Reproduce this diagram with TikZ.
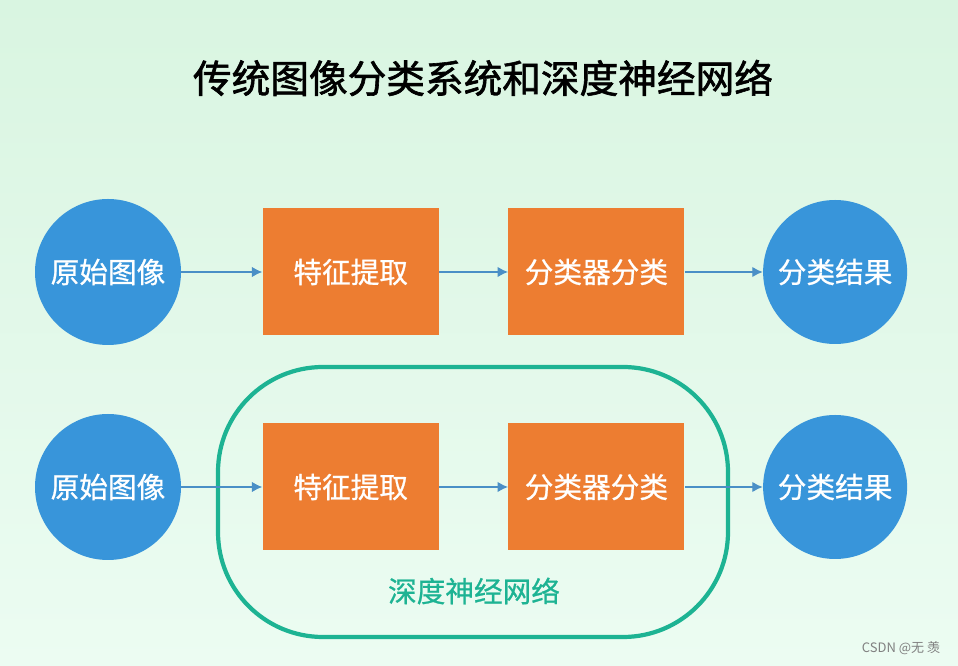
\documentclass[tikz,border=0pt]{standalone}
\usepackage{fontspec}
\setmainfont{Noto Sans CJK SC}
\newfontfamily\headfont{Noto Sans CJK SC}[FakeBold=1.6]
\newfontfamily\boxfont{Noto Sans CJK SC}[FakeBold=0.8]
\usetikzlibrary{positioning, arrows.meta}

\definecolor{bgtop}{HTML}{D9F5E1}
\definecolor{bgbot}{HTML}{ECFCF2}
\definecolor{circblue}{HTML}{3895DA}
\definecolor{procorange}{HTML}{ED7D31}
\definecolor{linkblue}{HTML}{4A8FC6}
\definecolor{dnngreen}{HTML}{1DB393}

\begin{document}
\begin{tikzpicture}[
    node distance=1.62cm,
    circ/.style={circle, fill=circblue, text=white, inner sep=0pt,
                 minimum size=2.92cm, font=\boxfont\fontsize{16.3}{18}\selectfont},
    proc/.style={rectangle, fill=procorange, text=white,
                 minimum width=3.52cm, minimum height=2.54cm,
                 font=\boxfont\fontsize{16.3}{18}\selectfont},
    arrow/.style={-{Latex[length=2.1mm, width=2.1mm]}, draw=linkblue, line width=0.8pt},
    title/.style={font=\headfont\fontsize{22}{26}\selectfont}
]
% Background
\shade[top color=bgtop, bottom color=bgbot] (0,0) rectangle (19.16,-13.32);
\useasboundingbox (0,0) rectangle (19.16,-13.32);
\node[title] (head) at (9.66,-1.56) {传统图像分类系统和深度神经网络};
% Top row — traditional
\node[circ] (img_a) at (2.16,-5.44) {原始图像};
\node[proc, right=1.62cm of img_a] (feat_a) {特征提取};
\node[proc, right=1.38cm of feat_a] (cls_a) {分类器分类};
\node[circ, minimum size=2.88cm, right=1.56cm of cls_a] (res_a) {分类结果};
\draw[arrow] (img_a) -- (feat_a);
\draw[arrow] (feat_a) -- (cls_a);
\draw[arrow] (cls_a) -- (res_a);
% Bottom row — deep network
\node[circ] (img_b) at (2.16,-9.74) {原始图像};
\node[proc, right=1.62cm of img_b] (feat_b) {特征提取};
\node[proc, right=1.38cm of feat_b] (cls_b) {分类器分类};
\node[circ, minimum size=2.88cm, right=1.56cm of cls_b] (res_b) {分类结果};
\draw[dnngreen, line width=2.4pt, rounded corners=2.1cm]
      (4.36,-7.34) rectangle (14.56,-12.74);
\node[text=dnngreen, font=\boxfont\fontsize{16.3}{18}\selectfont] (dnn) at (9.48,-11.82) {深度神经网络};
\draw[arrow] (img_b) -- (feat_b);
\draw[arrow] (feat_b) -- (cls_b);
\draw[arrow] (cls_b) -- (res_b);
% Watermark
\node[text=gray, font=\fontsize{7.4}{9}\selectfont] (mark) at (18.02,-12.96) {CSDN @无 羡};
\end{tikzpicture}
\end{document}
